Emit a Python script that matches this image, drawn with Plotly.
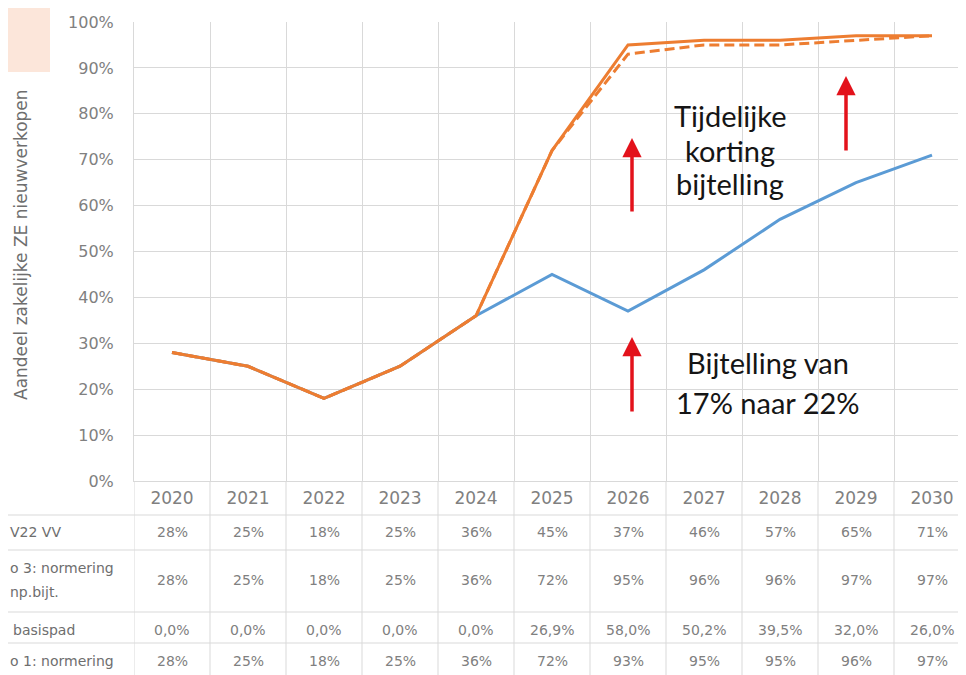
import plotly.graph_objects as go

# ---------------- data ----------------
years = ["2020", "2021", "2022", "2023", "2024", "2025", "2026", "2027", "2028", "2029", "2030"]
kev22_vv = [28, 25, 18, 25, 36, 45, 37, 46, 57, 65, 71]            # blue
scen3_norm_temp = [28, 25, 18, 25, 36, 72, 95, 96, 96, 97, 97]     # orange solid
diff_basispad = [0.0, 0.0, 0.0, 0.0, 0.0, 26.9, 58.0, 50.2, 39.5, 32.0, 26.0]
scen1_norm = [28, 25, 18, 25, 36, 72, 93, 95, 95, 96, 97]          # orange dashed

row_labels_visible = ["V22 VV", "o 3: normering", "np.bijt.", "basispad", "o 1: normering"]
y_ticks = [0, 10, 20, 30, 40, 50, 60, 70, 80, 90, 100]
y_title = "Aandeel zakelijke ZE nieuwverkopen"
note1 = ["Tijdelijke", "korting", "bijtelling"]
note2 = ["Bijtelling van", "17% naar 22%"]

# ---------------- layout geometry (reference pixels; page has an 8px body margin) ----------------
OFF = 8
W, H = 966 - OFF, 675 - OFF
PL, PT, PB = 134, 22, 481          # plot area in reference pixels
ph = PB - PT
pw = 966 - PL
xs = list(range(len(years)))
x_left, x_right = -0.5, -0.5 + pw / 76.0


def py(p):  # reference pixel y -> paper y (== data y since y range is [0, 1])
    return (PB - p) / ph


def px(p):  # reference pixel x -> paper x
    return (p - PL) / pw


def dx(p):  # reference pixel x -> data x
    return (p - 172) / 76.0


BLUE = "#5B9BD5"
ORANGE = "#ED7D31"
GRID = "#D9D9D9"
GREY = "#808080"
RED = "#E3121B"
FONT = "Lato"
SMALL = "DejaVu Sans"

fig = go.Figure()
fig.add_trace(go.Scatter(x=xs, y=[v / 100 for v in kev22_vv], mode="lines",
                         line=dict(color=BLUE, width=3), name="KEV22 VV"))
fig.add_trace(go.Scatter(x=xs, y=[v / 100 for v in scen3_norm_temp], mode="lines",
                         line=dict(color=ORANGE, width=3), name="Scenario 3"))
fig.add_trace(go.Scatter(x=xs, y=[v / 100 for v in scen1_norm], mode="lines",
                         line=dict(color=ORANGE, width=3, dash="10px,5px"), name="Scenario 1"))

shapes = []
annotations = []

# peach fragment top-left
shapes.append(dict(type="rect", xref="paper", yref="paper", x0=px(OFF), x1=px(50), y0=py(72), y1=py(OFF),
                   fillcolor="#FCE6DA", line=dict(width=0), layer="below"))

# table geometry
row_bounds = [515, 550, 612, 643]
for rb in row_bounds:
    shapes.append(dict(type="line", xref="paper", yref="paper", x0=px(OFF), x1=1, y0=py(rb), y1=py(rb),
                       line=dict(color=GRID, width=1)))
for i in range(len(years)):
    shapes.append(dict(type="line", xref="x", yref="paper", x0=i - 0.5, x1=i - 0.5, y0=py(690), y1=0,
                       line=dict(color=GRID, width=1)))

tfont = dict(family=SMALL, size=14, color=GREY)
row_y = [532, 580, 630, 661]
rows = [
    [f"{v:.0f}%" for v in kev22_vv],
    [f"{v:.0f}%" for v in scen3_norm_temp],
    [f"{v:.1f}%".replace(".", ",") for v in diff_basispad],
    [f"{v:.0f}%" for v in scen1_norm],
]
for ry, vals in zip(row_y, rows):
    for i, t in enumerate(vals):
        annotations.append(dict(x=i, y=py(ry), xref="x", yref="paper", text=t, showarrow=False,
                                font=tfont, xanchor="center", yanchor="middle"))

label_pos = [(OFF, 532), (OFF, 568), (OFF, 592), (OFF + 3, 630), (OFF, 661)]
for (lx, ly), t in zip(label_pos, row_labels_visible):
    annotations.append(dict(x=px(lx), y=py(ly), xref="paper", yref="paper", text=t, showarrow=False,
                            font=dict(family=SMALL, size=14, color="#6E6E6E"), xanchor="left", yanchor="middle"))

# text notes
for t, yy in zip(note1, [116, 150, 184]):
    annotations.append(dict(x=dx(730), y=py(yy), xref="x", yref="paper", text=t, showarrow=False,
                            font=dict(family=FONT, size=29, color="#151515"), xanchor="center", yanchor="middle"))
for t, yy in zip(note2, [362, 402]):
    annotations.append(dict(x=dx(768), y=py(yy), xref="x", yref="paper", text=t, showarrow=False,
                            font=dict(family=FONT, size=29, color="#151515"), xanchor="center", yanchor="middle"))

# red arrows (x in data units, tip / tail converted from reference pixel y)
for ax_px, tip, tail in [(632, 138, 213), (846, 76, 152), (632, 337, 413)]:
    annotations.append(dict(x=dx(ax_px), y=py(tip), ax=dx(ax_px), ay=py(tail), xref="x", yref="y",
                            axref="x", ayref="y", text="", showarrow=True,
                            arrowhead=2, arrowsize=1.1, arrowwidth=3.5, arrowcolor=RED))

# y axis title
annotations.append(dict(x=px(21), y=py(245), xref="paper", yref="paper", text=y_title, showarrow=False,
                        textangle=-90, font=dict(family=SMALL, size=17, color="#6E6E6E"),
                        xanchor="center", yanchor="middle"))

fig.update_layout(
    width=W, height=H,
    margin=dict(l=PL - OFF, r=0, t=PT - OFF, b=(675 - OFF) - (PB - OFF), pad=0),
    paper_bgcolor="white", plot_bgcolor="white",
    showlegend=False,
    shapes=shapes, annotations=annotations,
    xaxis=dict(range=[x_left, x_right], tickmode="array", tickvals=xs, ticktext=years,
               showgrid=False, zeroline=False, showline=True, linecolor=GRID, linewidth=1,
               ticks="", ticklabelstandoff=2,
               tickfont=dict(family=SMALL, size=17, color=GREY),
               minor=dict(tickmode="array", tickvals=[i - 0.5 for i in xs], showgrid=True,
                          gridcolor=GRID, gridwidth=1, ticks="")),
    yaxis=dict(range=[0, 1], tickmode="array", tickvals=[v / 100 for v in y_ticks],
               ticktext=[f"{v}%" for v in y_ticks], showgrid=True, gridcolor=GRID, gridwidth=1,
               zeroline=False, showline=True, linecolor=GRID, linewidth=1, ticks="",
               ticklabelstandoff=16, tickfont=dict(family=SMALL, size=16, color=GREY)),
)

fig.write_html("out.html")
